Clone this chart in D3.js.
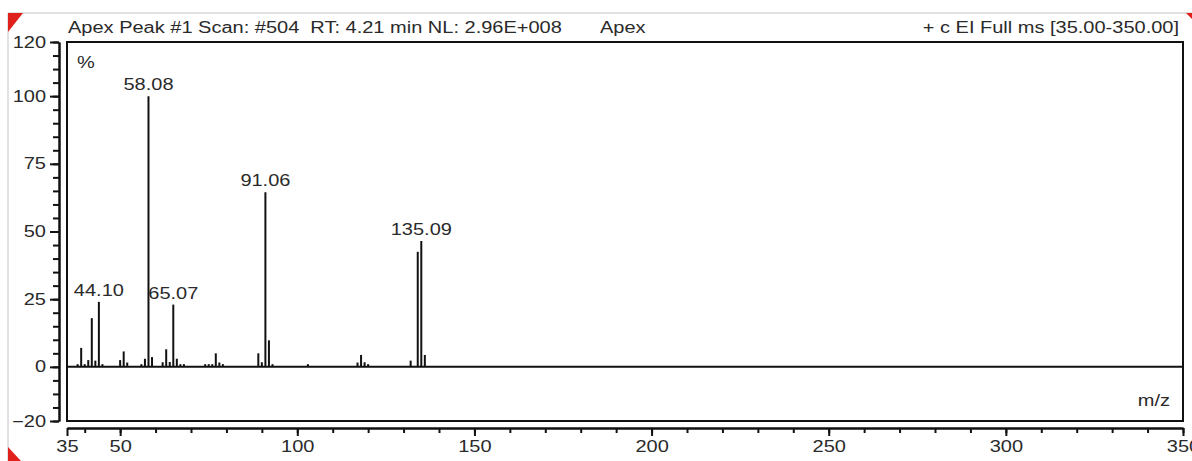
<!DOCTYPE html>
<html>
<head>
<meta charset="utf-8">
<script src="https://cdn.jsdelivr.net/npm/d3@7"></script>
<style>
  html, body { margin: 0; padding: 0; background: #fff; }
  svg { display: block; }
  text { font-family: "Liberation Sans", Arial, sans-serif; fill: #2a2a2a; white-space: pre; }
</style>
</head>
<body>
<svg id="chart" width="1192" height="461"></svg>
<script>
// m/z of every stick and its relative abundance (%)
let mzValues = [38, 39, 40, 41, 42, 43, 44, 45, 50, 51, 52, 56, 57, 58, 59,
  62, 63, 64, 65, 66, 67, 68, 74, 75, 76, 77, 78, 79, 89, 90, 91, 92, 93,
  103, 117, 118, 119, 120, 132, 134, 135, 136];
let abundance = [1, 7, 1, 2.5, 18, 2.3, 24, 1, 2.5, 5.7, 1.6, 1, 3, 100, 3.6,
  1.7, 6.5, 1.8, 23, 3, 1, 1, 1, 1, 1, 5, 1.6, 1, 5, 1.7, 64.5, 9.8, 1,
  1, 1.6, 4.4, 1.7, 1, 2.3, 42.5, 46.5, 4.4];

// labelled peaks
let labelMz = [44, 58, 65, 91, 135];
let labelText = ['44.10', '58.08', '65.07', '91.06', '135.09'];

// axis ticks
let yMajorTicks = [-20, 0, 25, 50, 75, 100, 120];
let yMinorTicks = d3.range(-20, 121, 5);
let xMajorTicks = [35, 50, 100, 150, 200, 250, 300, 350];
let xMinorTicks = d3.range(40, 351, 10);

let headerLeft = 'Apex Peak #1 Scan: #504  RT: 4.21 min NL: 2.96E+008';
let headerMid = 'Apex';
let headerRight = '+ c EI Full ms [35.00-350.00]';

let svg = d3.select('#chart');
let sx = 1.25; // the screenshot is stretched sideways

let plotLeft = 67, plotRight = 1183, plotTop = 42, plotBottom = 421;

let x = d3.scaleLinear().domain([35, 350]).range([plotLeft, plotRight]);
let y = d3.scaleLinear().domain([-20, 120]).range([plotBottom, plotTop]);

function label(x0, y0, str, anchor, size) {
  return svg.append('text')
    .attr('transform', 'translate(' + x0 + ',' + y0 + ') scale(' + sx + ',1)')
    .attr('text-anchor', anchor)
    .attr('font-size', size || 16)
    .text(str);
}

// outer window border + red corner marks
svg.append('path')
  .attr('d', 'M8,461V13H1192')
  .attr('fill', 'none')
  .attr('stroke', '#c4c4c4')
  .attr('stroke-width', 1);
svg.append('path').attr('d', 'M8,13H23L8,32Z').attr('fill', '#e0201a');
svg.append('path').attr('d', 'M8,447L21,461H8Z').attr('fill', '#e0201a');
svg.append('path').attr('d', 'M1186,13H1192V19Z').attr('fill', '#e0201a');

// header
label(68, 33, headerLeft, 'start');
label(600, 33, headerMid, 'start');
label(1179, 33, headerRight, 'end');

// plot frame
svg.append('rect')
  .attr('x', plotLeft).attr('y', plotTop)
  .attr('width', plotRight - plotLeft).attr('height', plotBottom - plotTop)
  .attr('fill', 'none')
  .attr('stroke', '#111')
  .attr('stroke-width', 2);

// zero line
svg.append('line')
  .attr('x1', plotLeft).attr('x2', plotRight)
  .attr('y1', y(0)).attr('y2', y(0))
  .attr('stroke', '#111')
  .attr('stroke-width', 2);

// sticks
svg.append('g').selectAll('line')
  .data(mzValues)
  .enter()
  .append('line')
  .attr('x1', function(d) { return x(d) })
  .attr('x2', function(d) { return x(d) })
  .attr('y1', y(0))
  .attr('y2', function(d, i) { return y(abundance[i]) })
  .attr('stroke', '#111')
  .attr('stroke-width', 2);

// peak labels
labelMz.forEach(function(m, i) {
  let v = abundance[mzValues.indexOf(m)];
  label(x(m), y(v) - 6, labelText[i], 'middle');
});

label(77, 68, '%', 'start');
label(1170, 406, 'm/z', 'end');

// y axis (separate, left of frame)
let yAxisX = 59;
svg.append('g')
  .attr('transform', 'translate(' + yAxisX + ',0)')
  .call(d3.axisLeft(y).tickValues(yMinorTicks).tickSize(6).tickSizeOuter(0).tickFormat(''));
let yAx = svg.append('g')
  .attr('transform', 'translate(' + yAxisX + ',0)')
  .call(d3.axisLeft(y).tickValues(yMajorTicks).tickSize(9).tickSizeOuter(0));
yAx.selectAll('text')
  .attr('x', -13 / sx)
  .attr('transform', 'scale(' + sx + ',1)')
  .attr('font-size', 16)
  .attr('font-family', null);

// x axis (separate, below frame)
let xAxisY = 428;
svg.append('g')
  .attr('transform', 'translate(0,' + xAxisY + ')')
  .call(d3.axisBottom(x).tickValues(xMinorTicks).tickSize(5).tickSizeOuter(0).tickFormat(''));
let xAx = svg.append('g')
  .attr('transform', 'translate(0,' + xAxisY + ')')
  .call(d3.axisBottom(x).tickValues(xMajorTicks).tickSize(8).tickSizeOuter(0));
xAx.selectAll('text')
  .attr('y', 13)
  .attr('transform', 'scale(' + sx + ',1)')
  .attr('font-size', 16)
  .attr('font-family', null);

svg.selectAll('.domain, .tick line')
  .attr('stroke', '#111')
  .attr('stroke-width', 2);
</script>
</body>
</html>
